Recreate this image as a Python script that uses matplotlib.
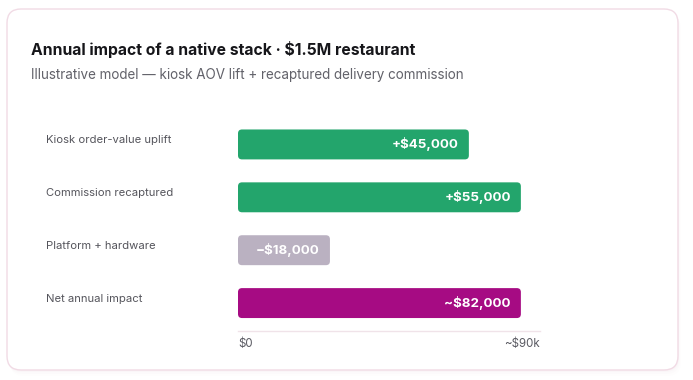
import matplotlib
matplotlib.use("Agg")
import matplotlib.pyplot as plt
from matplotlib.patches import FancyBboxPatch

plt.rcParams["font.family"] = ["Inter", "DejaVu Sans"]

# data
categories = ["Kiosk order-value uplift", "Commission recaptured",
              "Platform + hardware", "Net annual impact"]
value_labels = ["+$45,000", "+$55,000", "\u2212$18,000", "~$82,000"]
# bar lengths as drawn, in the axis' own units (0 .. ~90k)
bar_lengths = [68.8, 84.3, 27.4, 84.3]
bar_colors = ["#23a56c", "#23a56c", "#bab1c1", "#a60b83"]
axis_ticks = [0, 90]
axis_tick_labels = ["$0", "~$90k"]

W, H = 693, 380
fig = plt.figure(figsize=(W / 100, H / 100), dpi=100)
fig.patch.set_facecolor("white")

# background card
bg = fig.add_axes([0, 0, 1, 1])
bg.set_xlim(0, W)
bg.set_ylim(H, 0)
bg.axis("off")
for i, a in enumerate([0.035, 0.025, 0.015]):
    off = 2 + i * 2
    bg.add_patch(FancyBboxPatch((7 + 1 + i, 9 + off), 671, 361, boxstyle="round,pad=0,rounding_size=14",
                                facecolor="#c8a0b4", edgecolor="none", alpha=a))
bg.add_patch(FancyBboxPatch((7, 9), 671, 361, boxstyle="round,pad=0,rounding_size=14",
                            facecolor="white", edgecolor="#f1dbe5", linewidth=1))

bg.text(31, 49, "Annual impact of a native stack \u00b7 $1.5M restaurant",
        fontsize=11.3, fontweight="bold", color="#16161a", va="center", ha="left")
bg.text(31, 75, "Illustrative model \u2014 kiosk AOV lift + recaptured delivery commission",
        fontsize=9.7, color="#62626a", va="center", ha="left")

# bar axes, placed in pixel terms
left_px, right_px, top_px, bottom_px = 238, 540, 120, 331
ax = fig.add_axes([left_px / W, 1 - bottom_px / H, (right_px - left_px) / W, (bottom_px - top_px) / H])
ax.set_xlim(0, 90)
ax.set_ylim(3.528, -0.462)
ax.patch.set_alpha(0)

pos = list(range(len(categories)))
bars = ax.barh(pos, bar_lengths, height=0.566, color=bar_colors)

x_per_px = 90 / (right_px - left_px)
y_per_px = 1 / 53
for b, col, lab in zip(bars, bar_colors, value_labels):
    x, y, w, h = b.get_x(), b.get_y(), b.get_width(), b.get_height()
    b.set_visible(False)
    ax.add_patch(FancyBboxPatch((x, y), w, h, boxstyle=f"round,pad=0,rounding_size={4 * x_per_px}",
                                mutation_aspect=y_per_px / x_per_px,
                                facecolor=col, edgecolor="none"))
    ax.text(x + w - 10 * x_per_px, y + h / 2, lab, color="white", fontsize=9.6,
            fontweight="bold", ha="right", va="center")

for p, cat in zip(pos, categories):
    ax.text(46 / W, p - 0.08, cat, transform=matplotlib.transforms.blended_transform_factory(fig.transFigure, ax.transData),
            fontsize=8.1, color="#55555c", ha="left", va="center")

for s in ["top", "right", "left"]:
    ax.spines[s].set_visible(False)
ax.spines["bottom"].set_color("#f0e3e9")
ax.spines["bottom"].set_linewidth(1)
ax.set_yticks([])
ax.set_xticks(axis_ticks)
ax.set_xticklabels(axis_tick_labels, fontsize=8.3, color="#5a5a62")
ax.tick_params(axis="x", length=0, pad=5)
tl = ax.get_xticklabels()
tl[0].set_ha("left")
tl[-1].set_ha("right")

fig.savefig("out.png", dpi=100, facecolor="white")
